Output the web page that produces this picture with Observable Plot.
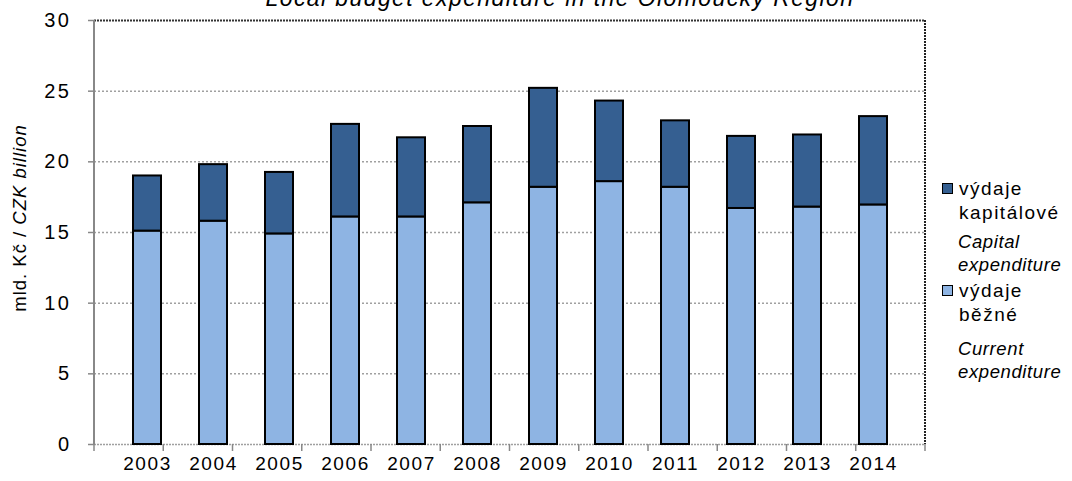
<!DOCTYPE html>
<html>
<head>
<meta charset="utf-8">
<script src="https://cdn.jsdelivr.net/npm/d3@7"></script>
<script src="https://cdn.jsdelivr.net/npm/@observablehq/plot@0.6"></script>
<style>
  html, body { margin: 0; padding: 0; background: #fff; }
  body { width: 1072px; height: 481px; overflow: hidden; position: relative; font-family: "Liberation Sans", Arial, sans-serif; color: #000; }
  #title { position: absolute; left: 0; width: 1120px; top: -13px; text-align: center; font-size: 23px; line-height: 23px; font-style: italic; letter-spacing: 1.4px; white-space: nowrap; }
  #ylabel { position: absolute; left: 20px; top: 218px; transform: translate(-50%, -50%) rotate(-90deg); font-size: 18.5px; white-space: nowrap; letter-spacing: 1px; }
  .leg { position: absolute; font-size: 19px; line-height: 24px; letter-spacing: 1.5px; white-space: nowrap; }
  .leg.it { font-style: italic; letter-spacing: 0.6px; font-size: 18.5px; line-height: 23px; }
  .sw { display: inline-block; width: 9px; height: 9px; border: 1.5px solid #000; margin-right: 6px; vertical-align: 1px; }
  #chart { position: absolute; left: 0; top: 0; }
</style>
</head>
<body>
<div id="chart"></div>
<div id="title">Local budget  expenditure  in the Olomoucký Region</div>
<div id="ylabel">mld. Kč / <i>CZK billion</i></div>
<div class="leg" style="left:942px; top:177px;"><span class="sw" style="background:#355f91"></span>výdaje<br><span style="margin-left:17px">kapitálové</span></div>
<div class="leg it" style="left:958px; top:230px;">Capital<br>expenditure</div>
<div class="leg" style="left:942px; top:279px;"><span class="sw" style="background:#8eb4e3"></span>výdaje<br><span style="margin-left:17px">běžné</span></div>
<div class="leg it" style="left:958px; top:337px;">Current<br>expenditure</div>
<script>
const years = ["2003","2004","2005","2006","2007","2008","2009","2010","2011","2012","2013","2014"];
const currentExp = [15.1, 15.8, 14.9, 16.1, 16.1, 17.1, 18.2, 18.6, 18.2, 16.7, 16.8, 16.95];
const capitalExp = [3.9, 4.0, 4.35, 6.55, 5.6, 5.4, 7.0, 5.7, 4.7, 5.1, 5.1, 6.25];
const seriesNames = ["current", "capital"];
const seriesColors = ["#8eb4e3", "#355f91"];
const yTicks = [0, 5, 10, 15, 20, 25, 30];
const gridTicks = [5, 10, 15, 20, 25];

const data = [];
years.forEach((y, i) => data.push({year: y, series: "current", value: currentExp[i]}));
years.forEach((y, i) => data.push({year: y, series: "capital", value: capitalExp[i]}));

const chart = Plot.plot({
  width: 1072,
  height: 481,
  marginTop: 20,
  marginBottom: 37,
  marginLeft: 94,
  marginRight: 147,
  style: {fontFamily: "'Liberation Sans', Arial, sans-serif", fontSize: "19px", color: "#000", background: "transparent", overflow: "visible"},
  x: {domain: years, padding: 0.58, tickSize: 0, tickPadding: 12, label: null},
  y: {domain: [0, 30], ticks: yTicks, tickSize: 6, tickPadding: 17, label: null},
  color: {domain: seriesNames, range: seriesColors},
  marks: [
    Plot.ruleY(gridTicks, {stroke: "#a0a0a0", strokeWidth: 1.5, strokeDasharray: "2,2"}),
    Plot.ruleY([30], {stroke: "#333", strokeWidth: 2, strokeDasharray: "2,1"}),
    Plot.ruleY([0], {stroke: "#a0a0a0", strokeWidth: 1.5, strokeDasharray: "2,1"}),
    Plot.barY(data, {x: "year", y: "value", fill: "series", stroke: "#000", strokeWidth: 2})
  ]
});
document.getElementById("chart").appendChild(chart);

const svg = d3.select(chart);
svg.selectAll("[aria-label='x-axis tick label'] text").attr("letter-spacing", "1.6px").attr("font-size", "19px");
svg.selectAll("[aria-label='y-axis tick label'] text").attr("letter-spacing", "2.5px").attr("font-size", "20px");
svg.selectAll("[aria-label='y-axis tick'] path, [aria-label='y-axis tick']").attr("stroke", "#888").attr("stroke-width", 1.5);

const xs = chart.scale("x");
const ys = chart.scale("y");
const x0 = xs.range[0], x1 = xs.range[1];
const yBottom = ys.apply(0), yTop = ys.apply(30);
const g = svg.append("g");
g.append("line").attr("x1", x0).attr("x2", x0).attr("y1", yTop).attr("y2", yBottom + 1).attr("stroke", "#888").attr("stroke-width", 2);
g.append("line").attr("x1", x1).attr("x2", x1).attr("y1", yTop).attr("y2", yBottom).attr("stroke", "#222").attr("stroke-width", 2).attr("stroke-dasharray", "2,1");
const step = (x1 - x0) / years.length;
for (let i = 0; i <= years.length; i++) {
  const xx = x0 + i * step;
  g.append("line").attr("x1", xx).attr("x2", xx).attr("y1", yBottom).attr("y2", yBottom + 7).attr("stroke", "#888").attr("stroke-width", 1.5);
}
</script>
</body>
</html>
